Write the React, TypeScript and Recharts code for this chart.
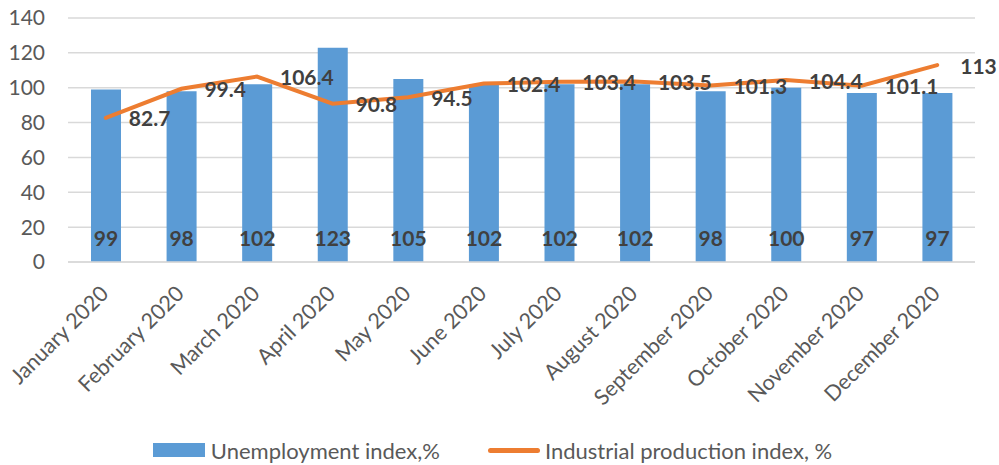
import React from "react";
import {
  ComposedChart,
  Bar,
  Line,
  XAxis,
  YAxis,
  CartesianGrid,
  Legend,
  LabelList,
} from "recharts";

const months = [
  "January 2020",
  "February 2020",
  "March 2020",
  "April 2020",
  "May 2020",
  "June 2020",
  "July 2020",
  "August 2020",
  "September 2020",
  "October 2020",
  "November 2020",
  "December 2020",
];
const unemployment = [99, 98, 102, 123, 105, 102, 102, 102, 98, 100, 97, 97];
const industrial = [82.7, 99.4, 106.4, 90.8, 94.5, 102.4, 103.4, 103.5, 101.3, 104.4, 101.1, 113];
const yTicks = [0, 20, 40, 60, 80, 100, 120, 140];

const data = months.map((m, i) => ({
  month: m,
  unemployment: unemployment[i],
  industrial: industrial[i],
}));

const FONT = "Lato, 'Open Sans', sans-serif";
const BLUE = "#5B9BD5";
const ORANGE = "#ED7D31";
const AXIS_TEXT = "#595959";
const LABEL_TEXT = "#404040";

const MonthTick = (props: any) => {
  const { x, y, payload } = props;
  const ax = x + 4;
  const ay = y + 25;
  return (
    <text
      x={ax}
      y={ay}
      transform={`rotate(-45, ${ax}, ${ay})`}
      textAnchor="end"
      fill={AXIS_TEXT}
      fontSize={21.5}
      fontFamily={FONT}
    >
      {payload.value}
    </text>
  );
};

const BarValue = (props: any) => {
  const { x, y, width, height, value } = props;
  return (
    <text
      x={x + width / 2}
      y={y + height - 25}
      textAnchor="middle"
      dominantBaseline="central"
      fill={LABEL_TEXT}
      fontSize={21}
      fontWeight="bold"
      fontFamily={FONT}
    >
      {value}
    </text>
  );
};

const LineValue = (props: any) => {
  const { x, y, value } = props;
  return (
    <text
      x={x + 23}
      y={y}
      textAnchor="start"
      dominantBaseline="central"
      fill={LABEL_TEXT}
      fontSize={21}
      fontWeight="bold"
      fontFamily={FONT}
    >
      {value}
    </text>
  );
};

const ChartLegend = () => (
  <div
    style={{
      height: 30,
      display: "flex",
      alignItems: "center",
      justifyContent: "center",
      paddingLeft: 10,
      fontFamily: FONT,
      fontSize: 22,
      color: AXIS_TEXT,
    }}
  >
    <span style={{ width: 52, height: 14, background: BLUE, marginRight: 6 }} />
    <span>Unemployment index,%</span>
    <span
      style={{
        width: 52,
        height: 5,
        borderRadius: 3,
        background: ORANGE,
        marginLeft: 48,
        marginRight: 5,
      }}
    />
    <span>Industrial production index, %</span>
  </div>
);

export default function App() {
  return (
    <div style={{ position: "absolute", left: 0, top: 0, background: "#fff" }}>
      <ComposedChart
        width={999}
        height={465}
        data={data}
        margin={{ top: 18, right: 24, left: 0, bottom: 0 }}
        style={{ fontFamily: FONT }}
      >
        <CartesianGrid vertical={false} stroke="#D9D9D9" strokeWidth={1.5} />
        <XAxis
          dataKey="month"
          interval={0}
          height={173}
          axisLine={{ stroke: "#D9D9D9", strokeWidth: 1.5 }}
          tickLine={false}
          tick={<MonthTick />}
        />
        <YAxis
          width={68}
          domain={[0, 140]}
          ticks={yTicks}
          axisLine={false}
          tickLine={false}
          tickMargin={17}
          tick={{ fill: AXIS_TEXT, fontSize: 21, fontFamily: FONT }}
        />
        <Legend verticalAlign="bottom" content={<ChartLegend />} />
        <Bar
          dataKey="unemployment"
          name="Unemployment index,%"
          fill={BLUE}
          barSize={30}
          isAnimationActive={false}
        >
          <LabelList dataKey="unemployment" content={<BarValue />} />
        </Bar>
        <Line
          dataKey="industrial"
          name="Industrial production index, %"
          type="linear"
          stroke={ORANGE}
          strokeWidth={4}
          strokeLinecap="round"
          dot={false}
          isAnimationActive={false}
        >
          <LabelList dataKey="industrial" content={<LineValue />} />
        </Line>
      </ComposedChart>
    </div>
  );
}
